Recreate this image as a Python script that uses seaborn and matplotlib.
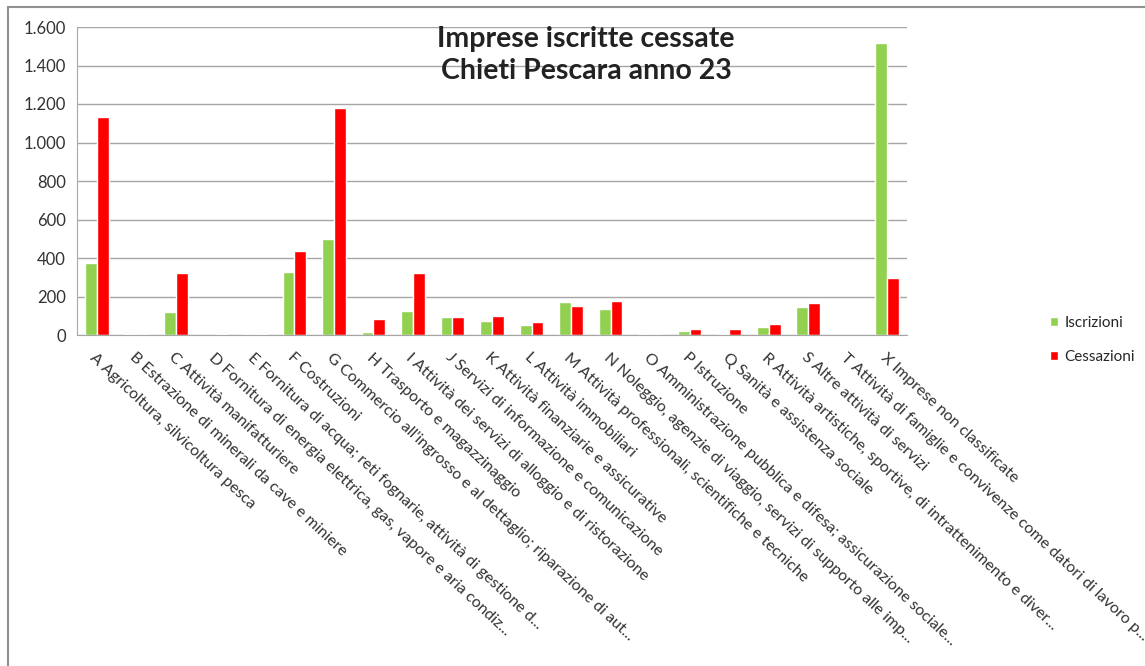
import pandas as pd
import matplotlib.pyplot as plt
import matplotlib.ticker as mticker
from matplotlib.patches import Patch
from matplotlib.lines import Line2D
import seaborn as sns

categorie = [
    "A Agricoltura, silvicoltura pesca",
    "B Estrazione di minerali da cave e miniere",
    "C Attività manifatturiere",
    "D Fornitura di energia elettrica, gas, vapore e aria condiz...",
    "E Fornitura di acqua; reti fognarie, attività di gestione d...",
    "F Costruzioni",
    "G Commercio all'ingrosso e al dettaglio; riparazione di aut...",
    "H Trasporto e magazzinaggio",
    "I Attività dei servizi di alloggio e di ristorazione",
    "J Servizi di informazione e comunicazione",
    "K Attività finanziarie e assicurative",
    "L Attività immobiliari",
    "M Attività professionali, scientifiche e tecniche",
    "N Noleggio, agenzie di viaggio, servizi di supporto alle imp...",
    "O Amministrazione pubblica e difesa; assicurazione sociale...",
    "P Istruzione",
    "Q Sanità e assistenza sociale",
    "R Attività artistiche, sportive, di intrattenimento e diver...",
    "S Altre attività di servizi",
    "T Attività di famiglie e convivenze come datori di lavoro p...",
    "X Imprese non classificate",
]
iscrizioni = [375, 3, 120, 2, 3, 327, 498, 18, 125, 95, 74, 50, 173, 136, 3, 22, 5, 40, 145, 0, 1515]
cessazioni = [1135, 5, 320, 4, 5, 436, 1180, 85, 320, 92, 99, 70, 152, 178, 5, 30, 30, 55, 168, 0, 297]

df = pd.DataFrame({"cat": categorie, "Iscrizioni": iscrizioni, "Cessazioni": cessazioni})
df = df.melt(id_vars="cat", var_name="serie", value_name="valore")

verde = "#92D050"
rosso = "#FF0000"

sns.set_style("white")
plt.rcParams["font.family"] = ["Lato", "DejaVu Sans"]

fig = plt.figure(figsize=(11.45, 6.66), dpi=100)
ax = fig.add_axes([77 / 1145, 1 - 335 / 666, (907 - 77) / 1145, (335 - 27) / 666])

sns.barplot(data=df, x="cat", y="valore", hue="serie", order=categorie,
            palette={"Iscrizioni": verde, "Cessazioni": rosso},
            width=0.6, saturation=1, legend=False, ax=ax)

ax.set_ylim(0, 1600)
ax.set_xlim(-0.5, len(categorie) - 0.5)
ax.yaxis.set_major_locator(mticker.MultipleLocator(200))
ax.yaxis.set_major_formatter(mticker.FuncFormatter(lambda v, p: f"{int(v):,}".replace(",", ".")))
ax.grid(axis="y", color="#A6A6A6", linewidth=1)
ax.set_axisbelow(True)
ax.set_xlabel("")
ax.set_ylabel("")

for s in ["top", "right"]:
    ax.spines[s].set_visible(False)
ax.spines["left"].set_color("#9DA8C8")
ax.spines["bottom"].set_color("#A6A6A6")

ax.tick_params(axis="y", which="major", length=5, color="#A6A6A6", labelsize=12,
               labelcolor="#333333", pad=3)
ax.set_xticks(range(len(categorie)))
ax.set_xticklabels(categorie, rotation=-43, ha="left", va="top",
                   rotation_mode="anchor", fontsize=11.5, color="#333333")
ax.tick_params(axis="x", which="major", length=0, pad=11)
ax.set_xticks([i - 0.5 for i in range(len(categorie) + 1)], minor=True)
ax.tick_params(axis="x", which="minor", length=5, color="#9DA8C8")

fig.text(586 / 1145, 1 - 26 / 666, "Imprese iscritte cessate\nChieti Pescara anno 23",
         ha="center", va="top", fontsize=20.5, fontweight="bold", linespacing=1.3,
         color="#222222")

handles = [Patch(facecolor=verde, label="Iscrizioni"), Patch(facecolor=rosso, label="Cessazioni")]
fig.legend(handles=handles, loc="center left", bbox_to_anchor=(1036 / 1145, 1 - 340 / 666),
           frameon=False, fontsize=11, handlelength=0.55, handleheight=0.55,
           handletextpad=0.4, labelspacing=1.3)

fig.add_artist(Line2D([8 / 1145, 1], [1 - 7 / 666, 1 - 7 / 666], color="#909090", lw=1.5))
fig.add_artist(Line2D([8 / 1145, 8 / 1145], [0, 1 - 7 / 666], color="#909090", lw=1.5))

fig.savefig("out.png", dpi=100)
